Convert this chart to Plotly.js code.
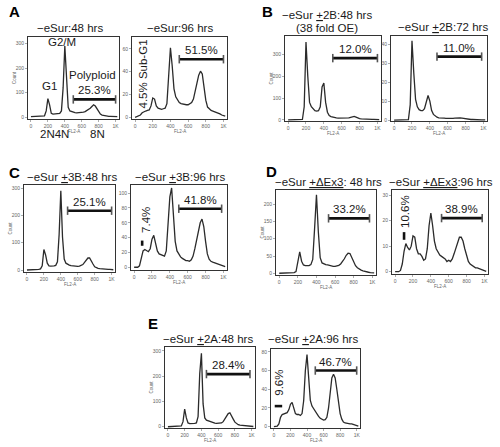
<!DOCTYPE html>
<html><head><meta charset="utf-8">
<script src="https://cdn.plot.ly/plotly-3.0.1.min.js"></script>
<style>html,body{margin:0;padding:0;background:#fff}#plot{width:500px;height:447px}</style>
</head><body><div id="plot"></div>
<script>
// ---------- DATA ----------
const FL2 = [0,20,40,60,80,100,120,140,160,180,200,220,240,260,280,300,320,340,360,380,400,420,440,460,480,500,520,540,560,580,600,620,640,660,680,700,720,740,760,780,800,820,840,860,880,900,920,940,960,980,1000,1020];
const A48 = [2,2,2,2,2,2,2,3,5,25,75,50,15,12,12,12,13,15,25,120,290,130,40,25,22,20,18,17,17,17,18,20,22,26,30,36,43,50,45,32,20,12,8,6,5,4,3,3,2,2,2,2];
const A96 = [0,0.5,1,2,4,5,5.5,6,6.5,10,17,16,10,8,7.5,7,7.5,8,12,40,61,45,25,18,15,13,12,11.5,11,11,11,12,13,16,22,30,37,40.5,38,27,15,9,7,6,5.5,5,4.5,4,3,2,1.5,1];
const B48 = [0,0,0,0,0,0,0,0,2,60,355,200,80,60,48,42,40,42,60,150,168,80,35,20,15,12,10,9,8,8,8,7,7,8,9,12,15,16,13,9,6,5,4,4,3,3,2,2,2,1,1,1];
const B72 = [0,0,0,0,0,0,0,0,0.2,8,42,25,11,7,5.5,5,5,6,9,13,10,5,3,2,1.5,1.2,1,1,1,0.9,0.8,0.8,0.8,0.9,1,1.1,1.1,1.1,1,0.8,0.6,0.5,0.4,0.3,0.3,0.2,0.2,0.2,0.1,0.1,0.1,0.1];
const C48 = [0,0,0,1,1,1,1,2,4,15,75,55,25,15,14,14,15,17,30,130,290,120,40,25,20,18,16,15,14,13,13,14,16,20,28,37,44,44,35,22,12,8,6,5,4,4,3,3,2,2,2,1];
const C96 = [0,0,0,2,12,22,24,23,21,25,38,43,32,22,18,17,15,15,22,55,95,107,70,35,22,18,14,12,10,9,9,8,10,15,25,38,50,60,65,55,35,18,11,8,7,6,5,5,4,3,2,1];
const D48 = [0,0,0,1,1,1,1,1,2,5,35,62,35,24,22,22,22,25,40,130,227,120,45,30,27,25,24,22,21,20,20,21,23,27,34,42,52,58,57,45,32,22,16,12,9,7,5,4,3,2,2,1];
const D96 = [0,0,0,0.5,3,8,11,9.5,8.5,10,14,13.5,9,7,7,6,4.5,5,9,18,23,18,12,9,7.5,6.5,6,5.5,5,4,4.5,4,5,7,9,11,13.5,13.5,12,9,6,4,3,2.5,2,1.5,1.5,1.2,1,0.6,0.3,0.1];
const E48 = [0,0,0,0,0,0,1,1,3,20,70,35,15,12,12,12,13,15,40,210,290,90,35,26,23,20,17,15,14,13,13,13,15,20,30,42,52,55,45,30,18,11,8,6,5,5,4,3,3,2,2,1];
const E96 = [0,0,0.5,3,10,13,13.5,14,15,18,24,26,20,14,13,13,12,14,28,60,77,50,28,22,19,17,14,11,9,8,7,7.5,10,20,38,52,56,52,40,25,14,8,5,4,3.5,3.5,3,3,2.5,2,1,0.5];

const panelSeries = [A48, A96, B48, B72, C48, C96, D48, D96, E48, E96];
const panelTitles = [
  "\u2212eSur:48 hrs", "\u2212eSur:96 hrs",
  "\u2212eSur <u>+</u>2B:48 hrs", "\u2212eSur <u>+</u>2B:72 hrs",
  "\u2212eSur <u>+</u>3B:48 hrs", "\u2212eSur <u>+</u>3B:96 hrs",
  "\u2212eSur <u>+\u0394Ex3</u>: 48 hrs", "\u2212eSur <u>+\u0394Ex3</u>:96 hrs",
  "\u2212eSur <u>+</u>2A:48 hrs", "\u2212eSur <u>+</u>2A:96 hrs"
];
const subTitleB48 = "(38 fold OE)";
const panelLetters = ["A","B","C","D","E"];
const xTickVals = [0,200,400,600,800,1000];
const xTickText = ["0","200","400","600","800","1K"];
const yTickStep = [100,20,100,10,100,20,50,10,100,20];
const yTop = [327,70.5,383,44.5,311,111,241,32,315,83];
const yBottom = [-8,-1.5,-5,-0.5,-7.3,-3.7,-5,-0.9,-5,-1.4];
// polyploid (>4N) gate: percent, start, end channel, drawn at count level
const gatePct = ["25.3%","51.5%","12.0%","11.0%","25.1%","41.8%","33.2%","38.9%","28.4%","46.7%"];
const gateLo = [500,500,500,480,480,500,530,520,460,500];
const gateHi = [1000,1000,1000,980,1000,980,970,975,980,1000];
const gateY = [72,51,282,33.6,217,79,159,21,208,60];
// sub-G1 labels (panel index -> text)
const subG1Panel = [1,5,7,9];
const subG1Text = ["4.5% Sub-G1","7.4%","10.6%","9.6%"];
// sub-G1 gate marks (C96, D96, E96), channel / count units
const subG1GatePanel = [5,7,9];
const subG1GateX0 = [90,100,10];
const subG1GateX1 = [90,100,100];
const subG1GateY0 = [29,12.5,22];
const subG1GateY1 = [36,15.5,22];

// ---------- LAYOUT ----------
const W = 500, H = 447;
const boxes = [[28,119,37,119],[132,227,37,119],[285,381,36,121],[391,487,36,121],
               [24,115,185,272],[131,227,185,270],[276,376,190,275],[392,488,190,274],
               [165,255,347,428],[271,360,349,428]];
// title centre in px [x, y]
const titleCenter = [[70,28],[180,28],[327,15],[443,27],[72,177],[180,177],[328,181.5],[441,181.5],[208,339],[313,339]];
const subTitleCenter = [327,28];
const letterPos = [[14,12],[267,12],[14,172],[271,171],[153,323]];
const FONT = "Liberation Sans, Arial, sans-serif";
const ink = "#1a1a1a";
const TXT = 11.5;

const traces = [], annotations = [], layout = {
  width: W, height: H, margin: {l:0,r:0,t:0,b:0},
  paper_bgcolor: "#fff", plot_bgcolor: "#fff", showlegend: false,
  font: {family: FONT, color: ink}
};
function paperText(px, py, text, opts) {
  annotations.push(Object.assign({xref: "paper", yref: "paper", x: px / W, y: 1 - py / H,
    xanchor: "center", yanchor: "middle", showarrow: false, text: text,
    font: {size: TXT, family: FONT, color: ink}}, opts || {}));
}

panelSeries.forEach((ys, i) => {
  const n = i === 0 ? "" : String(i + 1);
  const xr = "x" + n, yr = "y" + n;
  const b = boxes[i];
  const axCommon = {showline: true, mirror: true, linecolor: "#333", linewidth: 1,
    showgrid: false, zeroline: false, ticks: "outside", ticklen: 2, tickwidth: 0.6,
    tickcolor: "#777", tickfont: {size: 5, color: "#666", family: FONT}};
  layout["xaxis" + n] = Object.assign({}, axCommon, {
    domain: [b[0]/W, b[1]/W], range: [-35, 1040], anchor: yr,
    tickvals: xTickVals, ticktext: xTickText});
  layout["yaxis" + n] = Object.assign({}, axCommon, {
    domain: [1 - b[3]/H, 1 - b[2]/H], range: [yBottom[i], yTop[i]], anchor: xr,
    dtick: yTickStep[i], tick0: 0});

  traces.push({x: FL2, y: ys, xaxis: xr, yaxis: yr, type: "scatter", mode: "lines",
    line: {color: "#2b2b2b", width: 1.3}, hoverinfo: "skip"});

  // gate bar
  traces.push({x: [gateLo[i], gateHi[i]], y: [gateY[i], gateY[i]], xaxis: xr, yaxis: yr,
    type: "scatter", mode: "lines+markers", line: {color: "#111", width: 2.6},
    marker: {symbol: "line-ns-open", size: 6, color: "#555", line: {width: 1.6, color: "#555"}},
    hoverinfo: "skip"});
  annotations.push({xref: xr, yref: yr, x: (gateLo[i] + gateHi[i]) / 2, y: gateY[i],
    yanchor: "bottom", yshift: 1, showarrow: false, text: gatePct[i],
    font: {size: TXT, family: FONT, color: ink}});

  // panel title
  paperText(titleCenter[i][0], titleCenter[i][1], panelTitles[i]);

  // axis titles
  annotations.push({xref: xr + " domain", yref: yr + " domain", x: 0.5, y: 0,
    yanchor: "middle", yshift: -12, showarrow: false, text: "FL2-A",
    font: {size: 4.5, family: FONT, color: "#666"}});
  if (i % 2 === 0) {
    annotations.push({xref: xr + " domain", yref: yr + " domain", x: 0, y: 0.5,
      xanchor: "center", xshift: -14, textangle: -90, showarrow: false, text: "Count",
      font: {size: 4.5, family: FONT, color: "#666"}});
  }
});
paperText(subTitleCenter[0], subTitleCenter[1], subTitleB48);

// sub-G1 gate marks
subG1GatePanel.forEach((p, k) => {
  const n = String(p + 1);
  traces.push({x: [subG1GateX0[k], subG1GateX1[k]], y: [subG1GateY0[k], subG1GateY1[k]],
    xaxis: "x" + n, yaxis: "y" + n, type: "scatter", mode: "lines",
    line: {color: "#111", width: 2.6}, hoverinfo: "skip"});
});

// sub-G1 percent labels (rotated)
const subG1LabelXY = [[95,38],[138,64.5],[102,23.5],[62,47]];
subG1Panel.forEach((p, k) => {
  const n = String(p + 1);
  annotations.push({xref: "x" + n, yref: "y" + n, x: subG1LabelXY[k][0], y: subG1LabelXY[k][1],
    textangle: -90, showarrow: false, text: subG1Text[k],
    font: {size: TXT, family: FONT, color: ink}});
});

// phase labels in panel A (48 hrs)
const phaseText = ["G1","G2/M","Polyploid"];
const phaseXY = [[217,126],[371,305],[727,171]];
phaseText.forEach((t, k) => annotations.push({xref: "x", yref: "y", x: phaseXY[k][0], y: phaseXY[k][1],
  showarrow: false, text: t, font: {size: TXT, family: FONT, color: ink}}));
const ploidyText = ["2N4N","8N"];
const ploidyX = [275,790];
ploidyText.forEach((t, k) => annotations.push({xref: "x", yref: "y domain", x: ploidyX[k], y: 0,
  yanchor: "middle", yshift: -15, showarrow: false, text: t, font: {size: TXT, family: FONT, color: ink}}));

// panel letters
panelLetters.forEach((L, k) => paperText(letterPos[k][0], letterPos[k][1], "<b>" + L + "</b>",
  {font: {size: 15, family: FONT, color: "#000"}}));

layout.annotations = annotations;
Plotly.newPlot("plot", traces, layout, {staticPlot: true, displayModeBar: false});
</script>
</body></html>
